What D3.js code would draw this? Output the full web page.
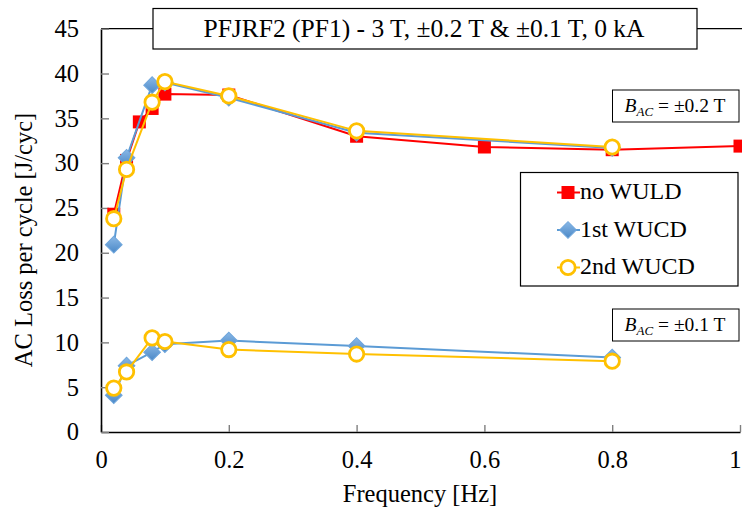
<!DOCTYPE html>
<html>
<head>
<meta charset="utf-8">
<script src="https://cdn.jsdelivr.net/npm/d3@7"></script>
<style>
  body { margin: 0; background: #fff; }
  svg text { font-family: "Liberation Serif", "DejaVu Serif", "Times New Roman", serif; fill: #000; }
</style>
</head>
<body>
<svg id="chart" width="742" height="511"></svg>
<script>
// frequencies [Hz]
var freqNoWuld = [0.02, 0.04, 0.06, 0.08, 0.1, 0.2, 0.4, 0.6, 0.8, 1.0];
var freqWucd = [0.02, 0.04, 0.08, 0.1, 0.2, 0.4, 0.8];

// AC loss per cycle [J/cyc], B_AC = ±0.2 T
var noWuld02 = [24.3, 30.3, 34.6, 36.1, 37.7, 37.6, 33.0, 31.8, 31.5, 31.9];
var firstWucd02 = [20.9, 30.6, 38.7, 39.0, 37.3, 33.4, 31.7];
var secondWucd02 = [23.8, 29.3, 36.8, 39.1, 37.5, 33.6, 31.8];

// B_AC = ±0.1 T
var firstWucd01 = [4.1, 7.4, 8.9, 9.8, 10.2, 9.6, 8.3];
var secondWucd01 = [4.9, 6.7, 10.5, 10.1, 9.2, 8.7, 7.9];

var xTicks = [0, 0.2, 0.4, 0.6, 0.8, 1];
var yTicks = [0, 5, 10, 15, 20, 25, 30, 35, 40, 45];

var legendNames = ["no WULD", "1st WUCD", "2nd WUCD"];

var red = "#ff0000", blue = "#5b9bd5", gold = "#ffc000";
var serif = "'Liberation Serif', 'DejaVu Serif', 'Times New Roman', serif";

var svg = d3.select("#chart"),
  margin = { top: 28.7, right: 2, bottom: 79, left: 101 },
  width = +svg.attr("width") - margin.left - margin.right,
  height = +svg.attr("height") - margin.top - margin.bottom;

var x = d3.scaleLinear().domain([0, 1]).range([0, 639]);
var y = d3.scaleLinear().domain([0, 45]).range([height, 0]);

var defs = svg.append("defs");
var grad = defs.append("linearGradient")
  .attr("id", "diamondFill")
  .attr("x1", "0").attr("y1", "0").attr("x2", "1").attr("y2", "1");
grad.append("stop").attr("offset", "0%").attr("stop-color", "#8ab8e6");
grad.append("stop").attr("offset", "100%").attr("stop-color", "#4a88c7");

var g = svg.append("g")
  .attr("transform", "translate(" + margin.left + "," + margin.top + ")");

// top frame line
g.append("line")
  .attr("x1", 0).attr("x2", width + 2)
  .attr("y1", 0).attr("y2", 0)
  .attr("stroke", "#000").attr("stroke-width", 1.2);

var xAxis = g.append("g")
  .attr("transform", "translate(0," + height + ")")
  .call(d3.axisBottom(x).tickValues(xTicks).tickFormat(d3.format("~g"))
    .tickSizeInner(-7).tickSizeOuter(0).tickPadding(19));
var yAxis = g.append("g")
  .call(d3.axisLeft(y).tickValues(yTicks)
    .tickSizeInner(-8).tickSizeOuter(0).tickPadding(22));

[xAxis, yAxis].forEach(function(ax) {
  ax.attr("font-family", serif).attr("font-size", 24.5);
  ax.selectAll(".tick text").style("font-size", "24.5px");
  ax.select(".domain").attr("stroke", "#000").attr("stroke-width", 1.6);
  ax.selectAll(".tick line").attr("stroke", "#7f7f7f").attr("stroke-width", 1.4);
  ax.selectAll(".tick text").attr("fill", "#000");
});
// last x label sits at the right edge: keep it inside the picture
xAxis.selectAll(".tick text")
  .filter(function(d) { return d === 1; })
  .attr("text-anchor", "end")
  .attr("x", 1);

var line = d3.line()
  .x(function(d) { return x(d[0]); })
  .y(function(d) { return y(d[1]); });

function pairs(xs, ys) {
  return xs.map(function(v, i) { return [v, ys[i]]; });
}

function drawMarker(sel, type) {
  if (type === "square") {
    sel.append("rect")
      .attr("x", -6.5).attr("y", -6.5).attr("width", 13).attr("height", 13)
      .attr("fill", red);
  } else if (type === "diamond") {
    sel.append("path")
      .attr("d", d3.symbol().type(d3.symbolSquare).size(140)())
      .attr("transform", "rotate(45)")
      .attr("fill", "url(#diamondFill)")
      .attr("stroke", "#6fa6dc").attr("stroke-width", 1);
  } else {
    sel.append("circle")
      .attr("r", 7.2)
      .attr("fill", "#fff")
      .attr("stroke", gold).attr("stroke-width", 2.8);
  }
}

var series = [
  { data: pairs(freqNoWuld, noWuld02), color: red, marker: "square" },
  { data: pairs(freqWucd, firstWucd02), color: blue, marker: "diamond" },
  { data: pairs(freqWucd, firstWucd01), color: blue, marker: "diamond" },
  { data: pairs(freqWucd, secondWucd02), color: gold, marker: "circle" },
  { data: pairs(freqWucd, secondWucd01), color: gold, marker: "circle" }
];

series.forEach(function(s) {
  g.append("path")
    .datum(s.data)
    .attr("fill", "none")
    .attr("stroke", s.color)
    .attr("stroke-width", 2)
    .attr("d", line);
  g.selectAll(null)
    .data(s.data)
    .enter()
    .append("g")
    .attr("transform", function(d) {
      return "translate(" + x(d[0]) + "," + y(d[1]) + ")";
    })
    .each(function() { drawMarker(d3.select(this), s.marker); });
});

// title box
svg.append("rect")
  .attr("x", 153).attr("y", 8.5).attr("width", 544).attr("height", 40.5)
  .attr("fill", "#fff").attr("stroke", "#000").attr("stroke-width", 1.2);
svg.append("text")
  .attr("x", 424).attr("y", 37)
  .attr("text-anchor", "middle")
  .style("font-size", "25.5px")
  .text("PFJRF2 (PF1) - 3 T, \u00b10.2 T & \u00b10.1 T, 0 kA");

// axis titles
svg.append("text")
  .attr("x", 420).attr("y", 502)
  .attr("text-anchor", "middle")
  .style("font-size", "24.5px")
  .text("Frequency [Hz]");
svg.append("text")
  .attr("transform", "translate(32,240) rotate(-90)")
  .attr("text-anchor", "middle")
  .style("font-size", "24.5px")
  .text("AC Loss per cycle [J/cyc]");

// B_AC labels
function bLabel(top, val) {
  svg.append("rect")
    .attr("x", 612.5).attr("y", top).attr("width", 126.5).attr("height", 32)
    .attr("fill", "#fff").attr("stroke", "#000").attr("stroke-width", 1);
  var t = svg.append("text")
    .attr("x", 675).attr("y", top + 22)
    .attr("text-anchor", "middle")
    .style("font-size", "19.5px");
  t.append("tspan").style("font-style", "italic").text("B");
  t.append("tspan").style("font-style", "italic").style("font-size", "13px")
    .attr("dy", 4).text("AC");
  t.append("tspan").attr("dy", -4).text(" = \u00b1" + val + " T");
}
bLabel(90, "0.2");
bLabel(309, "0.1");

// legend
var legend = svg.append("g");
legend.append("rect")
  .attr("x", 520.5).attr("y", 172.5).attr("width", 217.5).attr("height", 113.5)
  .attr("fill", "#fff").attr("stroke", "#000").attr("stroke-width", 1.2);
var legendColors = [red, blue, gold];
var legendMarkers = ["square", "diamond", "circle"];
legendNames.forEach(function(name, i) {
  var ly = 192.5 + i * 37.5;
  legend.append("line")
    .attr("x1", 557).attr("x2", 580).attr("y1", ly).attr("y2", ly)
    .attr("stroke", legendColors[i]).attr("stroke-width", 2);
  drawMarker(legend.append("g").attr("transform", "translate(568," + ly + ")"), legendMarkers[i]);
  legend.append("text")
    .attr("x", 580).attr("y", ly + 6.5)
    .style("font-size", "24px")
    .text(name);
});
</script>
</body>
</html>
